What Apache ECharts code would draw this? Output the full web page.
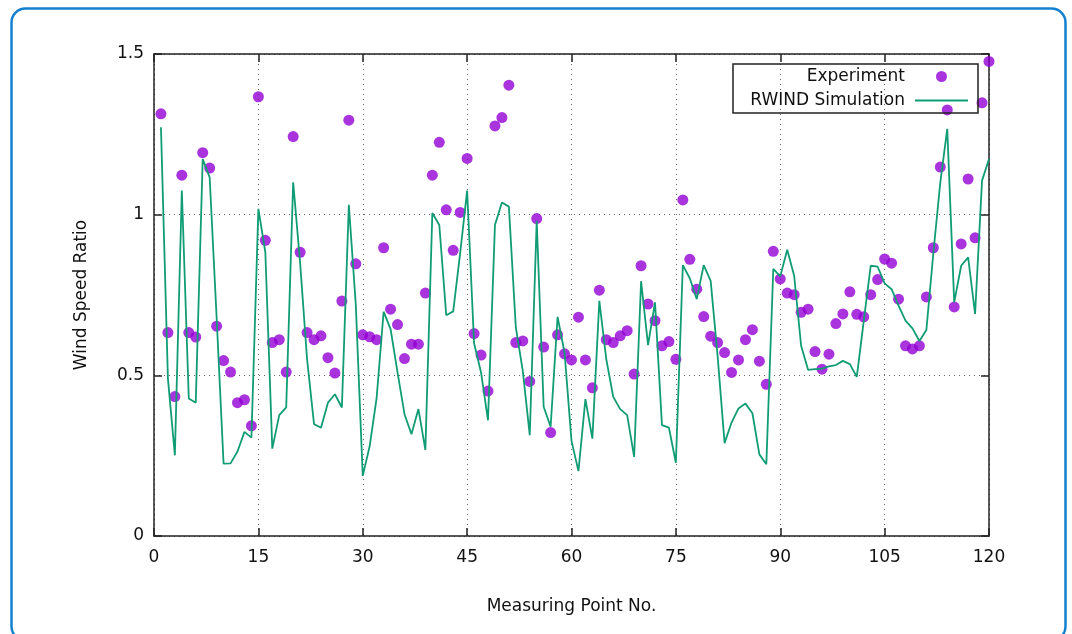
<!DOCTYPE html>
<html>
<head>
<meta charset="utf-8">
<script src="https://cdn.jsdelivr.net/npm/echarts@6/dist/echarts.min.js"></script>
<style>
  html, body { margin: 0; padding: 0; background: #fff; }
  #chart { width: 1072px; height: 634px; }
</style>
</head>
<body>
<div id="chart"></div>
<script>
// measuring points run 1..120
const firstPoint = 1;
const xTicks = { min: 0, max: 120, step: 15 };
const yTicks = { min: 0, max: 1.5, step: 0.5 };

const experiment = [
  1.314, 0.633, 0.434, 1.123, 0.633, 0.619, 1.193, 1.145, 0.653, 0.546,
  0.510, 0.415, 0.424, 0.343, 1.367, 0.920, 0.602, 0.611, 0.510, 1.243,
  0.883, 0.633, 0.611, 0.623, 0.555, 0.507, 0.731, 1.294, 0.847, 0.626,
  0.620, 0.611, 0.897, 0.706, 0.658, 0.552, 0.597, 0.597, 0.756, 1.123,
  1.225, 1.015, 0.889, 1.007, 1.175, 0.630, 0.563, 0.451, 1.276, 1.302,
  1.403, 0.602, 0.607, 0.481, 0.988, 0.588, 0.322, 0.626, 0.567, 0.548,
  0.681, 0.548, 0.461, 0.765, 0.611, 0.602, 0.623, 0.639, 0.504, 0.841,
  0.722, 0.670, 0.592, 0.605, 0.550, 1.046, 0.861, 0.768, 0.683, 0.622,
  0.602, 0.571, 0.509, 0.548, 0.611, 0.642, 0.544, 0.472, 0.886, 0.800,
  0.756, 0.751, 0.696, 0.706, 0.574, 0.519, 0.566, 0.661, 0.691, 0.760,
  0.690, 0.682, 0.751, 0.798, 0.862, 0.849, 0.737, 0.592, 0.582, 0.592,
  0.744, 0.897, 1.148, 1.326, 0.713, 0.909, 1.111, 0.928, 1.348, 1.477
];

const simulation = [
  1.272, 0.490, 0.251, 1.075, 0.428, 0.415, 1.173, 1.116, 0.680, 0.225,
  0.226, 0.263, 0.324, 0.306, 1.018, 0.883, 0.272, 0.376, 0.400, 1.101,
  0.850, 0.550, 0.348, 0.337, 0.415, 0.441, 0.400, 1.031, 0.720, 0.187,
  0.280, 0.431, 0.698, 0.644, 0.509, 0.379, 0.317, 0.395, 0.268, 1.005,
  0.968, 0.687, 0.699, 0.880, 1.075, 0.600, 0.509, 0.360, 0.968, 1.038,
  1.025, 0.649, 0.514, 0.314, 0.981, 0.402, 0.340, 0.682, 0.571, 0.296,
  0.202, 0.426, 0.303, 0.732, 0.550, 0.433, 0.395, 0.376, 0.246, 0.793,
  0.594, 0.727, 0.345, 0.337, 0.228, 0.843, 0.802, 0.737, 0.843, 0.794,
  0.560, 0.289, 0.353, 0.397, 0.412, 0.382, 0.254, 0.223, 0.831, 0.808,
  0.891, 0.810, 0.592, 0.517, 0.519, 0.521, 0.528, 0.532, 0.545, 0.535,
  0.495, 0.669, 0.841, 0.838, 0.786, 0.768, 0.717, 0.670, 0.646, 0.607,
  0.641, 0.880, 1.100, 1.267, 0.727, 0.841, 0.867, 0.691, 1.106, 1.173
];

const toPairs = (arr) => arr.map((v, i) => [i + firstPoint, v]);

const chart = echarts.init(document.getElementById('chart'), null, { renderer: 'canvas' });

const frame = { color: '#222', width: 1.5 };
const labelStyle = { fontSize: 17, color: '#111', fontFamily: 'DejaVu Sans' };
const dotted = { show: true, lineStyle: { type: [1, 4], color: '#666', width: 1 } };

function xAxisOf(pos, main) {
  return {
    type: 'value', position: pos, min: xTicks.min, max: xTicks.max, interval: xTicks.step,
    axisLine: { show: true, onZero: false, lineStyle: frame },
    axisTick: { show: true, inside: true, length: 8, lineStyle: frame },
    axisLabel: main ? Object.assign({ margin: 13 }, labelStyle) : { show: false },
    splitLine: main ? dotted : { show: false },
    name: main ? 'Measuring Point No.' : '',
    nameLocation: 'middle', nameGap: 62,
    nameTextStyle: labelStyle
  };
}

function yAxisOf(pos, main) {
  return {
    type: 'value', position: pos, min: yTicks.min, max: yTicks.max, interval: yTicks.step,
    axisLine: { show: true, onZero: false, lineStyle: frame },
    axisTick: { show: true, inside: true, length: 8, lineStyle: frame },
    axisLabel: main ? Object.assign({ margin: 10 }, labelStyle) : { show: false },
    splitLine: main ? dotted : { show: false },
    name: main ? 'Wind Speed Ratio' : '',
    nameLocation: 'middle', nameGap: 64, nameRotate: 90,
    nameTextStyle: labelStyle
  };
}

chart.setOption({
  animation: false,
  backgroundColor: '#fff',
  textStyle: { fontFamily: 'DejaVu Sans' },
  graphic: [{
    type: 'rect', left: 9, top: 6, silent: true, z: -10,
    shape: { width: 1054, height: 632, r: 14 },
    style: { fill: 'none', stroke: '#1580d0', lineWidth: 2.5 }
  }],
  grid: { left: 154, right: 83, top: 54, bottom: 98, containLabel: false },
  legend: {
    orient: 'vertical', right: 94, top: 64, align: 'right',
    itemWidth: 53, itemHeight: 11, itemGap: 5,
    padding: [3, 10, 3, 10],
    borderColor: '#222', borderWidth: 1.5, backgroundColor: 'transparent',
    textStyle: { fontSize: 17, color: '#111', width: 162, align: 'right', padding: [0, 5, 0, 0], lineHeight: 19 },
    data: [
      { name: 'Experiment', icon: 'circle' },
      { name: 'RWIND Simulation', icon: 'path://M0,0 L53,0 L53,2 L0,2 Z' }
    ]
  },
  xAxis: [xAxisOf('bottom', true), xAxisOf('top', false)],
  yAxis: [yAxisOf('left', true), yAxisOf('right', false)],
  series: [
    {
      name: 'Experiment', type: 'scatter', xAxisIndex: 0, yAxisIndex: 0,
      symbol: 'circle', symbolSize: 11, z: 2,
      itemStyle: { color: '#9400d3' },
      data: toPairs(experiment)
    },
    {
      name: 'RWIND Simulation', type: 'line', xAxisIndex: 0, yAxisIndex: 0,
      symbol: 'none', showSymbol: false, z: 3,
      lineStyle: { color: '#109c74', width: 1.8 },
      itemStyle: { color: '#109c74' },
      data: toPairs(simulation)
    }
  ]
});
</script>
</body>
</html>
